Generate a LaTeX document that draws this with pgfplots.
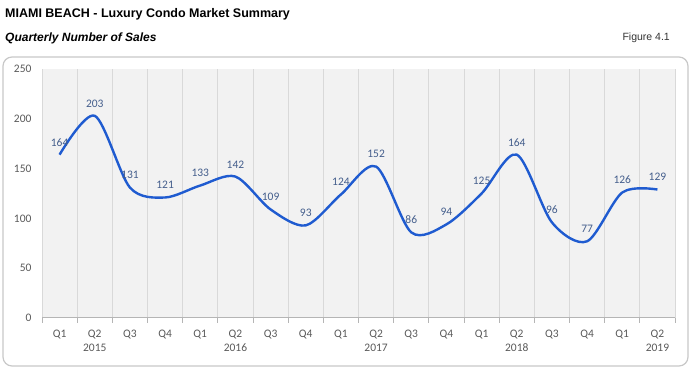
\documentclass[border=0pt]{standalone}
\usepackage{pgfplots}
\pgfplotsset{compat=1.18}
\usepackage{fontspec}
\setmainfont{Liberation Sans}
\newfontfamily\calibri{Carlito}
\definecolor{linecol}{RGB}{31,91,208}
\definecolor{labcol}{RGB}{68,94,140}
\definecolor{tickcol}{RGB}{89,89,89}
\definecolor{gridcol}{RGB}{217,217,217}
\definecolor{bgcol}{RGB}{242,242,242}
\definecolor{framecol}{RGB}{200,200,200}
\pgfplotstableread{
x y
0 164
1 203
2 131
3 121
4 133
5 142
6 109
7 93
8 124
9 152
10 86
11 94
12 125
13 164
14 96
15 77
16 126
17 129
}\sales
\begin{document}
\begin{tikzpicture}
\path[use as bounding box] (0pt,0pt) rectangle (699pt,382pt);
\draw[framecol,line width=1.2pt,rounded corners=9pt] (3pt,16pt) rectangle (688pt,325pt);
\node[anchor=west,inner sep=0pt,font=\bfseries\fontsize{12.5}{14}\selectfont] at (5pt,368pt) {MIAMI BEACH - Luxury Condo Market Summary};
\node[anchor=west,inner sep=0pt,font=\bfseries\itshape\fontsize{12}{14}\selectfont] at (5pt,344pt) {Quarterly Number of Sales};
\node[anchor=east,inner sep=0pt,font=\fontsize{10.5}{12}\selectfont,text=black!80] at (670pt,344pt) {Figure 4.1};
\begin{axis}[
  at={(42pt,64pt)}, anchor=south west,
  width=633pt, height=249pt, scale only axis,
  /pgf/number format/assume math mode=true,
  xmin=-0.5, xmax=17.5, ymin=0, ymax=250,
  axis background/.style={fill=bgcol},
  axis line style={draw=none},
  ytick={0,50,...,250},
  xtick={0,...,17},
  xticklabels={Q1,Q2\\2015,Q3,Q4,Q1,Q2\\2016,Q3,Q4,Q1,Q2\\2017,Q3,Q4,Q1,Q2\\2018,Q3,Q4,Q1,Q2\\2019},
  xticklabel style={align=center,font=\calibri\fontsize{11.5}{14}\selectfont,text=tickcol,anchor=north,yshift=-9pt},
  yticklabel style={font=\calibri\fontsize{11.5}{12}\selectfont,text=tickcol,anchor=east,xshift=-7pt},
  major tick length=0pt,
  minor xtick={-0.5,0.5,...,17.5},
  minor x tick style={draw=gridcol!60!gray,line width=0.8pt},
  minor tick length=5pt,
  xminorgrids=true,
  minor x grid style={draw=gridcol,line width=0.8pt},
  tick align=outside,
  tick pos=left,
  clip=false,
]
\draw[gridcol!60!gray,line width=1pt] (axis cs:-0.5,0) -- (axis cs:17.5,0);
\addplot[linecol,line width=2.4pt,smooth,tension=0.5,
  nodes near coords,
  every node near coord/.append style={font=\calibri\fontsize{11.5}{12}\selectfont,text=labcol,anchor=south,yshift=4pt}]
  table[x=x,y=y]{\sales};
\end{axis}
\end{tikzpicture}
\end{document}
